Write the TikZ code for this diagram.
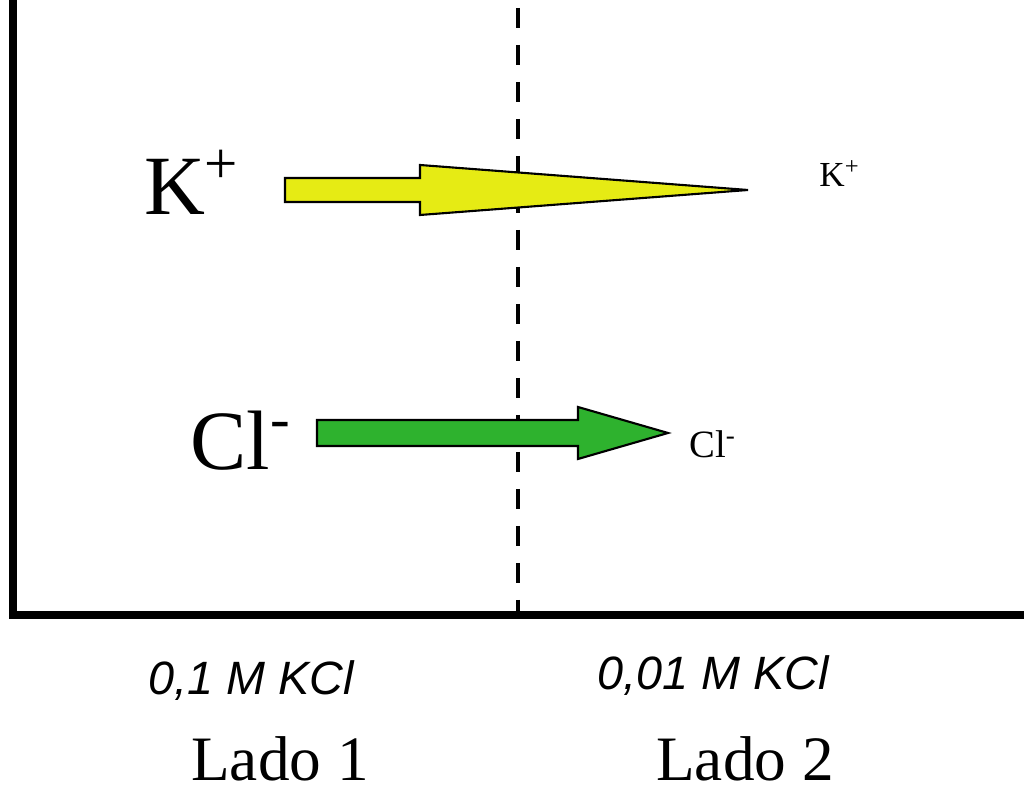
\documentclass[tikz,border=0pt]{standalone}
\usepackage{fontspec}
\setmainfont{Liberation Serif}
\setsansfont{Liberation Sans}
\definecolor{IonYellow}{HTML}{E6EB14}
\definecolor{IonGreen}{HTML}{2EB22E}

\begin{document}
\begin{tikzpicture}[line join=miter]
  \useasboundingbox (0,0) rectangle (10.24,7.88);
  % axes and membrane
  \draw[line width=2pt] (0.13,7.95) -- (0.13,1.73) -- (10.30,1.73);
  \draw[line width=1.4pt,dash pattern=on 0.2cm off 0.17cm] (5.18,7.80) -- (5.18,1.73);
  % flux arrows
  \filldraw[fill=IonYellow,draw=black,line width=0.6pt] (2.85,6.10) -- (4.20,6.10) -- (4.20,6.23) -- (7.48,5.98) -- (4.20,5.73) -- (4.20,5.86) -- (2.85,5.86) -- cycle;
  \filldraw[fill=IonGreen,draw=black,line width=0.6pt] (3.17,3.68) -- (5.78,3.68) -- (5.78,3.81) -- (6.68,3.55) -- (5.78,3.29) -- (5.78,3.42) -- (3.17,3.42) -- cycle;
  % ions
  \node[anchor=base,font=\fontsize{24}{28}\selectfont] (kbig) at (1.92,5.73) {K\textsuperscript{+}};
  \node[anchor=base,font=\fontsize{24}{28}\selectfont] (clbig) at (2.41,3.18) {Cl\textsuperscript{-}};
  \node[anchor=base,font=\fontsize{10}{12}\selectfont] (ksmall) at (8.40,6.01) {K\textsuperscript{+}};
  \node[anchor=base,font=\fontsize{11}{13}\selectfont] (clsmall) at (7.13,3.30) {Cl\textsuperscript{-}};
  % concentrations and sides
  \node[anchor=base,font=\sffamily\itshape\fontsize{13.3}{15}\selectfont] (conc1) at (2.51,0.93) {0,1 M KCl};
  \node[anchor=base,font=\sffamily\itshape\fontsize{13.3}{15}\selectfont] (conc2) at (7.13,0.98) {0,01 M KCl};
  \node[anchor=base,inner sep=0pt,font=\fontsize{18}{22}\selectfont] (side1) at (2.80,0.07) {Lado 1};
  \node[anchor=base,inner sep=0pt,font=\fontsize{18}{22}\selectfont] (side2) at (7.45,0.07) {Lado 2};
\end{tikzpicture}
\end{document}
